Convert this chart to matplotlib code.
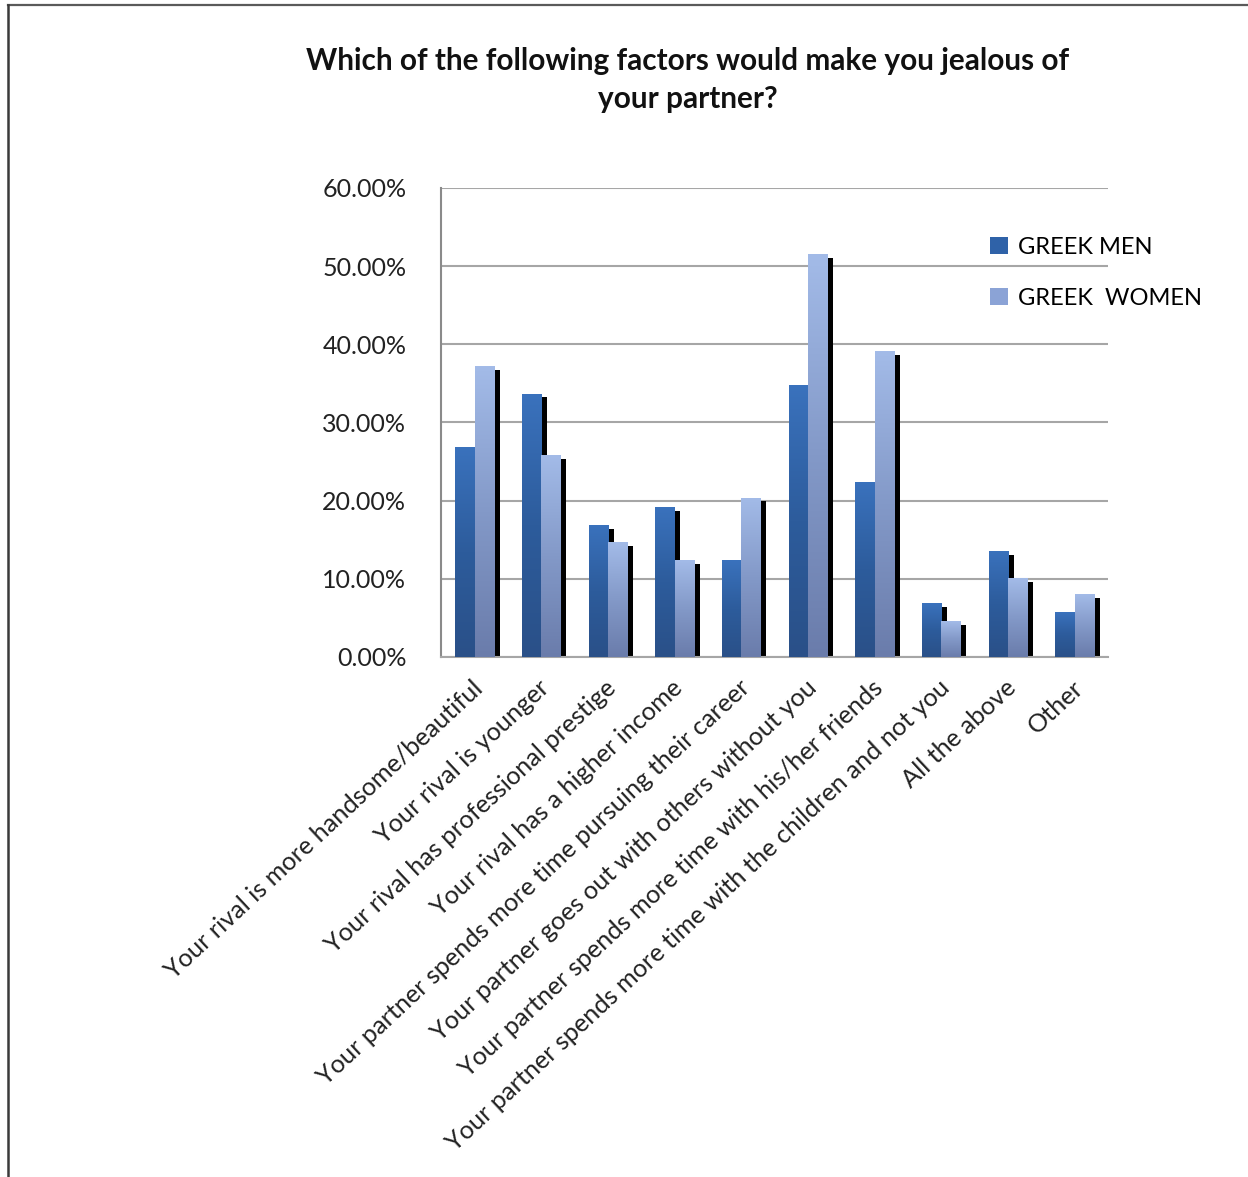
import matplotlib
matplotlib.use("Agg")
import matplotlib.pyplot as plt
import numpy as np
from matplotlib.patches import Patch
from matplotlib.lines import Line2D
from matplotlib.colors import LinearSegmentedColormap

plt.rcParams['font.family'] = ['Lato', 'DejaVu Sans']

categories = [
    "Your rival is more handsome/beautiful",
    "Your rival is younger",
    "Your rival has professional prestige",
    "Your rival has a higher income",
    "Your partner spends more time pursuing their career",
    "Your partner goes out with others without you",
    "Your partner spends more time with his/her friends",
    "Your partner spends more time with the children and not you",
    "All the above",
    "Other",
]
men = [26.9, 33.7, 16.9, 19.2, 12.4, 34.8, 22.4, 6.9, 13.6, 5.7]
women = [37.2, 25.8, 14.7, 12.4, 20.4, 51.6, 39.1, 4.6, 10.1, 8.0]
series_labels = ["GREEK MEN", "GREEK  WOMEN"]
yticks = [0, 10, 20, 30, 40, 50, 60]
ytick_labels = ["0.00%", "10.00%", "20.00%", "30.00%", "40.00%", "50.00%", "60.00%"]
title = "Which of the following factors would make you jealous of\nyour partner?"

W, H = 1248, 1177
fig = plt.figure(figsize=(W / 100, H / 100), dpi=100)
ax = fig.add_axes([441 / W, 1 - 657 / H, (1108 - 441) / W, (657 - 188) / H])

x = np.arange(len(categories))
bw = 0.285
off = 0.145
sdx = 0.09
sdy = 0.5

men_cmap = LinearSegmentedColormap.from_list("m", ["#3a72bd", "#2d5c9c", "#2a5088"])
wom_cmap = LinearSegmentedColormap.from_list("w", ["#a3bbe8", "#8399c8", "#6a7cab"])

# shadows
ax.bar(x - off + sdx, np.array(men) - sdy, bw, bottom=0, color="black", zorder=2)
ax.bar(x + off + sdx, np.array(women) - sdy, bw, bottom=0, color="black", zorder=2)

grad = np.linspace(0, 1, 256).reshape(-1, 1)
mbars = ax.bar(x - off, men, bw, color="#2f62a8", zorder=3)
wbars = ax.bar(x + off, women, bw, color="#8aa2d6", zorder=3)
for bars, cmap in ((mbars, men_cmap), (wbars, wom_cmap)):
    for b in bars:
        x0 = b.get_x()
        h = b.get_height()
        im = ax.imshow(grad, cmap=cmap, extent=(x0, x0 + b.get_width(), 0, h),
                       origin="upper", aspect="auto", zorder=4, interpolation="bilinear")
        im.set_clip_path(b)

ax.set_xlim(-0.5, len(categories) - 0.5)
ax.set_ylim(0, 60)
ax.set_yticks(yticks)
ax.set_yticklabels(ytick_labels, fontsize=18, color="#222222")
ax.yaxis.grid(True, color="#a6a6a6", linewidth=1.5, zorder=0)
ax.set_axisbelow(True)
ax.tick_params(axis="y", length=0, pad=25)
ax.set_xticks([])
for s in ("top", "right"):
    ax.spines[s].set_visible(False)
ax.spines["left"].set_color("#8a8a8a")
ax.spines["left"].set_linewidth(1.5)
ax.spines["bottom"].set_color("#a6a6a6")
ax.spines["bottom"].set_linewidth(1.5)

# rotated category labels
for xi, lab in zip(x, categories):
    ax.annotate(lab, xy=(xi, 0), xycoords=("data", "axes fraction"),
                xytext=(-3, -19), textcoords="offset pixels",
                rotation=43, rotation_mode="anchor", ha="right", va="top",
                fontsize=18.2, color="#222222")

fig.text(688 / W, 1 - 80 / H, title, ha="center", va="center", fontsize=21.4,
         fontweight="bold", color="#111111", linespacing=1.45)

handles = [Patch(facecolor="#2f62a8", edgecolor="none"),
           Patch(facecolor="#8ba3d6", edgecolor="none")]
fig.legend(handles, series_labels, loc="upper left",
           bbox_to_anchor=(990 / W, 1 - 237 / H), frameon=False, fontsize=17,
           handlelength=0.75, handleheight=0.75, handletextpad=0.45,
           labelspacing=1.25, borderpad=0, borderaxespad=0)

# outer frame lines
fig.add_artist(Line2D([8 / W, 1], [1 - 5 / H, 1 - 5 / H], transform=fig.transFigure,
                      color="#5a5a5a", linewidth=1.6))
fig.add_artist(Line2D([8 / W, 8 / W], [0, 1 - 5 / H], transform=fig.transFigure,
                      color="#3a3a3a", linewidth=1.8))

fig.savefig("out.png", dpi=100, facecolor="white")
